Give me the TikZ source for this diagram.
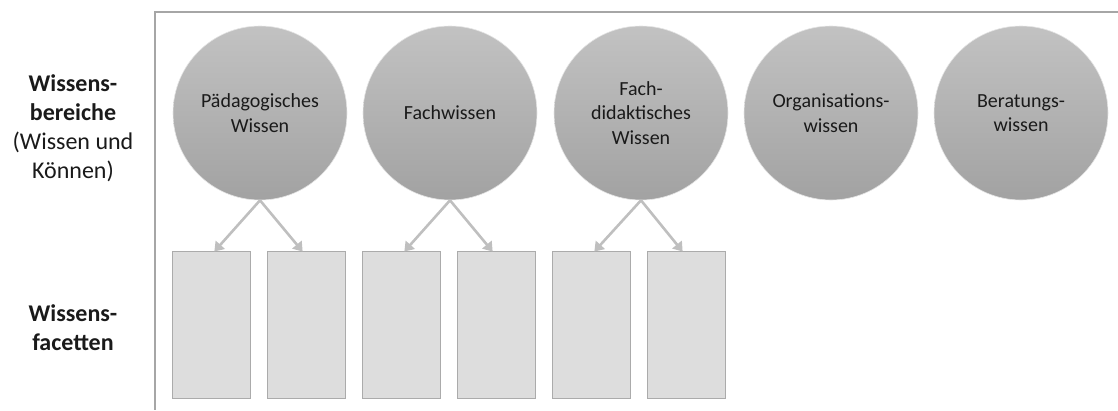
\documentclass[tikz,border=0pt]{standalone}
\usepackage{fontspec}
\setmainfont{Carlito}
\usetikzlibrary{arrows.meta}
\definecolor{framegray}{HTML}{A6A6A6}
\definecolor{arrowgray}{HTML}{BFBFBF}
\definecolor{facetfill}{HTML}{DDDDDD}
\definecolor{facetline}{HTML}{ABABAB}
\definecolor{circtop}{HTML}{C2C2C2}
\definecolor{circbot}{HTML}{A2A2A2}
\definecolor{txt}{HTML}{1A1A1A}
\tikzset{
  areanode/.style={circle, minimum size=174pt, inner sep=0pt,
    top color=circtop, bottom color=circbot, draw=white!80!gray, line width=0.6pt,
    align=center, text=txt, font=\fontsize{20}{24.4}\selectfont},
  facetbox/.style={rectangle, minimum width=78pt, minimum height=147pt, inner sep=0pt,
    fill=facetfill, draw=facetline, line width=1.5pt},
  linkarrow/.style={draw=arrowgray, line width=2.6pt,
    -{Triangle[length=9pt,width=12pt]}, shorten >=-1pt},
  framelines/.style={draw=framegray, line width=1.5pt},
  rowlabel/.style={align=center, text=txt, font=\fontsize{24}{29}\selectfont}
}
\begin{document}
\begin{tikzpicture}[x=1pt,y=-1pt]
\useasboundingbox (0,0) rectangle (1118,410);
% frame
\coordinate (fc) at (155,12);
\coordinate (fr) at (1118,12);
\coordinate (fb) at (155,410);
\draw[framelines] (fr) -- (fc) -- (fb);
% row labels
\node[rowlabel] (lab1) at (73,128) {\textbf{Wissens-}\\\textbf{bereiche}\\(Wissen und\\Können)};
\node[rowlabel] (lab2) at (73,328) {\textbf{Wissens-}\\\textbf{facetten}};
% knowledge areas
\node[areanode] (d1) at (260,113) {Pädagogisches\\Wissen};
\node[areanode] (d2) at (450,113) {Fachwissen};
\node[areanode] (d3) at (641,113) {Fach-\\didaktisches\\Wissen};
\node[areanode] (d4) at (831,113) {Organisations-\\wissen};
\node[areanode] (d5) at (1021,113) {Beratungs-\\wissen};
% facets
\node[facetbox] (f1) at (211.5,325) {};
\node[facetbox] (f2) at (306.5,325) {};
\node[facetbox] (f3) at (401.5,325) {};
\node[facetbox] (f4) at (496.5,325) {};
\node[facetbox] (f5) at (591.5,325) {};
\node[facetbox] (f6) at (686.5,325) {};
% links
\draw[linkarrow] (d1.south) -- ([xshift=3.5pt]f1.north);
\draw[linkarrow] (d1.south) -- ([xshift=-4.5pt]f2.north);
\draw[linkarrow] (d2.south) -- ([xshift=3.5pt]f3.north);
\draw[linkarrow] (d2.south) -- ([xshift=-4.5pt]f4.north);
\draw[linkarrow] (d3.south) -- ([xshift=3.5pt]f5.north);
\draw[linkarrow] (d3.south) -- ([xshift=-4.5pt]f6.north);
\end{tikzpicture}
\end{document}
